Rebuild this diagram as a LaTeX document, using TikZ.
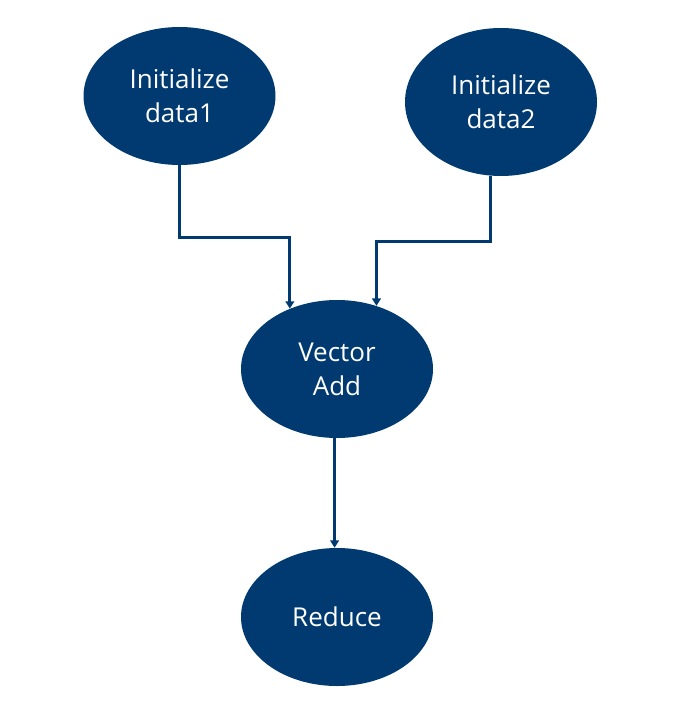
\documentclass[tikz,border=0pt]{standalone}
\usepackage{fontspec}
\setmainfont{Open Sans}
\usetikzlibrary{shapes.geometric, arrows.meta}
\definecolor{stageblue}{RGB}{0,58,112}
\tikzstyle{stage} = [ellipse, minimum width=144pt, minimum height=103.5pt, inner sep=0pt, align=center, text=white, fill=stageblue, font=\fontsize{19.5}{25.5}\selectfont]
\tikzstyle{arrow} = [draw=stageblue, line width=2.4pt, -{Triangle[width=6.5pt,length=5.5pt]}]

\begin{document}
\begin{tikzpicture}[x=0.75pt, y=-0.75pt]
        \useasboundingbox (0,0) rectangle (678,709);
        \node (init1) [stage] at (179.5,96) {Initialize\\data1};
        \node (init2) [stage, minimum height=111pt] at (501,102) {Initialize\\data2};
        \node (vadd) [stage] at (337,369) {Vector\\Add};
        \node (reduce) [stage] at (337,617) {Reduce};

        \draw [arrow] (init1.south) -- ++(0,72) -| (vadd.128);
        \draw [arrow] (init2.262) -- ++(0,66) -| (vadd.58);
        \draw [arrow] (vadd.268) -- (reduce.92);
    \end{tikzpicture}
\end{document}
